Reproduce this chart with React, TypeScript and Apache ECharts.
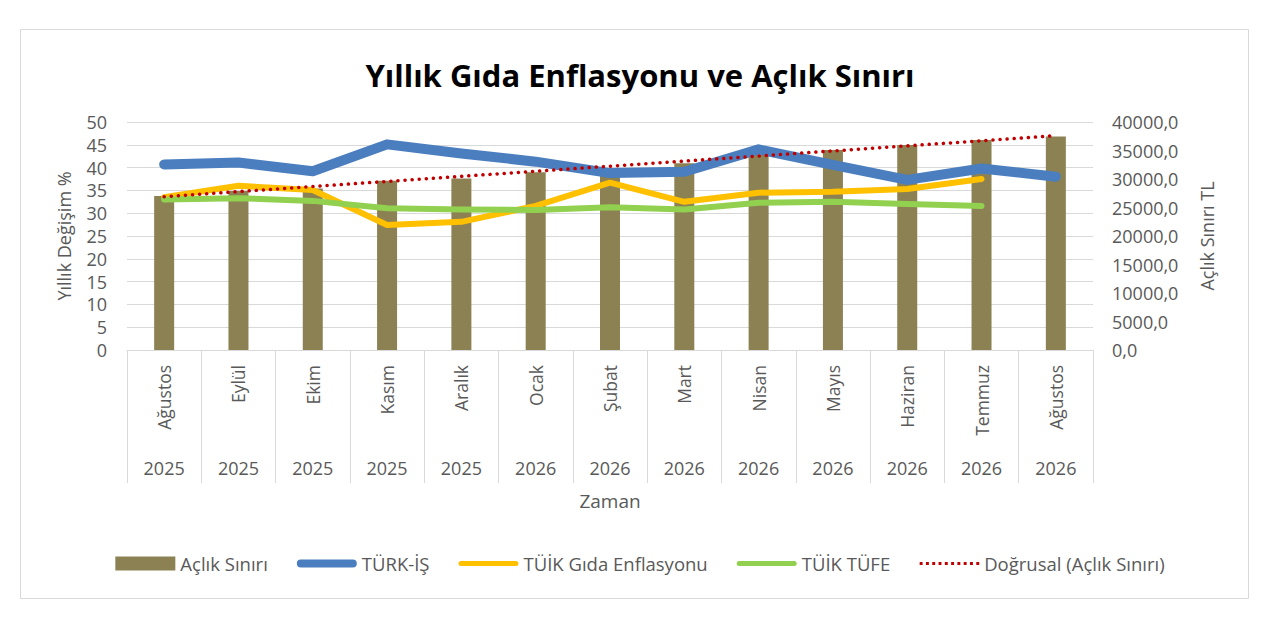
import React, { useEffect, useRef } from "react";
import * as echarts from "echarts";

const months = ["Ağustos", "Eylül", "Ekim", "Kasım", "Aralık", "Ocak", "Şubat", "Mart", "Nisan", "Mayıs", "Haziran", "Temmuz", "Ağustos"];
const years = ["2025", "2025", "2025", "2025", "2025", "2026", "2026", "2026", "2026", "2026", "2026", "2026", "2026"];

// Açlık Sınırı (TL) – right axis
const aclikSiniri = [27000, 27900, 28350, 29700, 30100, 31200, 31700, 32750, 34200, 35100, 35950, 36850, 37450];
// TÜRK-İŞ (%)
const turkIs = [40.7, 41.1, 39.2, 45.1, 43.1, 41.3, 38.8, 39.1, 44.0, 40.6, 37.3, 39.8, 38.0];
// TÜİK Gıda Enflasyonu (%)
const tuikGida = [33.5, 36.0, 35.1, 27.4, 28.1, 31.6, 36.7, 32.5, 34.5, 34.7, 35.3, 37.5, null];
// TÜİK TÜFE (%)
const tuikTufe = [33.0, 33.3, 32.7, 31.1, 30.8, 30.7, 31.3, 30.8, 32.3, 32.5, 32.0, 31.6, null];
// Doğrusal (Açlık Sınırı) – trend line endpoints
const trend = [26900, null, null, null, null, null, null, null, null, null, null, null, 37600];

const leftTicks = { min: 0, max: 50, interval: 5 };
const rightTicks = { min: 0, max: 40000, interval: 5000 };

const FONT = "'Open Sans', 'Noto Sans', sans-serif";
const GREY = "#595959";

// legend icon shapes (60 x 14 box); zero-area anchors keep the full box height
const ANCH = "M0,0 L0.01,0 Z M0,14 L0.01,14 Z ";
function lineIcon(th: number) {
  const r = th / 2;
  const y0 = 7 - r;
  const y1 = 7 + r;
  return (
    "path://" +
    ANCH +
    `M${r},${y0} L${60 - r},${y0} A${r},${r} 0 0 1 ${60 - r},${y1} L${r},${y1} A${r},${r} 0 0 1 ${r},${y0} Z`
  );
}
function dotIcon() {
  let d = "path://" + ANCH;
  for (let x = 0.5; x < 60; x += 6.5) {
    d += `M${x},5.5 L${x + 3},5.5 L${x + 3},8.5 L${x},8.5 Z `;
  }
  return d;
}

export default function App() {
  const ref = useRef<HTMLDivElement>(null);
  useEffect(() => {
    if (!ref.current) return;
    const chart = echarts.init(ref.current, null, { renderer: "svg" });
    const cats = months.map((m, i) => m + " " + years[i]);
    const option = {
      animation: false,
      backgroundColor: "#ffffff",
      textStyle: { fontFamily: FONT },
      title: {
        text: "Yıllık Gıda Enflasyonu ve Açlık Sınırı",
        left: "center",
        top: 54,
        textStyle: { fontFamily: FONT, fontSize: 31, fontWeight: "bold", color: "#000000" },
      },
      graphic: [
        {
          type: "rect",
          shape: { x: 20.5, y: 29.5, width: 1228, height: 569 },
          style: { fill: "none", stroke: "#d9d9d9", lineWidth: 1 },
          silent: true,
        },
      ],
      grid: { left: 127, right: 187, top: 122, bottom: 278 },
      legend: {
        top: 549,
        left: "center",
        itemWidth: 60,
        itemHeight: 14,
        itemGap: 29,
        textStyle: { fontFamily: FONT, fontSize: 18.5, color: GREY },
        data: [
          { name: "Açlık Sınırı", icon: "rect" },
          { name: "TÜRK-İŞ", icon: lineIcon(8) },
          { name: "TÜİK Gıda Enflasyonu", icon: lineIcon(5) },
          { name: "TÜİK TÜFE", icon: lineIcon(5) },
          { name: "Doğrusal (Açlık Sınırı)", icon: dotIcon() },
        ],
      },
      xAxis: [
        {
          type: "category",
          data: cats,
          position: "bottom",
          axisLine: { show: true, lineStyle: { color: "#d9d9d9", width: 1 } },
          axisTick: { show: true, interval: 0, length: 133, lineStyle: { color: "#d9d9d9", width: 1 } },
          axisLabel: {
            interval: 0,
            rotate: 90,
            margin: 15,
            fontSize: 17.5,
            color: GREY,
            fontFamily: FONT,
            formatter: (_v: string, i: number) => months[i],
          },
        },
        {
          type: "category",
          data: cats,
          position: "bottom",
          offset: 101,
          axisLine: { show: false },
          axisTick: { show: false },
          axisLabel: {
            interval: 0,
            margin: 8,
            fontSize: 18,
            color: GREY,
            fontFamily: FONT,
            formatter: (_v: string, i: number) => years[i],
          },
          name: "Zaman",
          nameLocation: "middle",
          nameGap: 40,
          nameTextStyle: { fontSize: 19, color: GREY, fontFamily: FONT },
        },
      ],
      yAxis: [
        {
          type: "value",
          ...leftTicks,
          position: "left",
          name: "Yıllık Değişim %",
          nameLocation: "middle",
          nameGap: 54,
          nameTextStyle: { fontSize: 18, color: GREY, fontFamily: FONT },
          axisLine: { show: false },
          axisTick: { show: false },
          axisLabel: { fontSize: 18, color: GREY, margin: 20, fontFamily: FONT },
          splitLine: { show: true, lineStyle: { color: "#d9d9d9", width: 1 } },
        },
        {
          type: "value",
          ...rightTicks,
          position: "right",
          name: "Açlık Sınırı TL",
          nameLocation: "middle",
          nameGap: 105,
          nameTextStyle: { fontSize: 18, color: GREY, fontFamily: FONT },
          axisLine: { show: false },
          axisTick: { show: false },
          axisLabel: {
            fontSize: 18,
            color: GREY,
            margin: 19,
            fontFamily: FONT,
            formatter: (v: number) => v.toFixed(1).replace(".", ","),
          },
          splitLine: { show: false },
        },
      ],
      series: [
        {
          name: "Açlık Sınırı",
          type: "bar",
          xAxisIndex: 0,
          yAxisIndex: 1,
          data: aclikSiniri,
          barWidth: 20,
          itemStyle: { color: "#8c8152" },
        },
        {
          name: "TÜRK-İŞ",
          type: "line",
          yAxisIndex: 0,
          data: turkIs,
          symbol: "none",
          lineStyle: { color: "#4a7ebf", width: 10, join: "round", cap: "round" },
          itemStyle: { color: "#4a7ebf" },
        },
        {
          name: "TÜİK Gıda Enflasyonu",
          type: "line",
          yAxisIndex: 0,
          data: tuikGida,
          symbol: "none",
          lineStyle: { color: "#ffc000", width: 6, join: "round", cap: "round" },
          itemStyle: { color: "#ffc000" },
        },
        {
          name: "TÜİK TÜFE",
          type: "line",
          yAxisIndex: 0,
          data: tuikTufe,
          symbol: "none",
          lineStyle: { color: "#92d050", width: 6, join: "round", cap: "round" },
          itemStyle: { color: "#92d050" },
        },
        {
          name: "Doğrusal (Açlık Sınırı)",
          type: "line",
          yAxisIndex: 1,
          data: trend,
          connectNulls: true,
          symbol: "none",
          z: 5,
          lineStyle: { color: "#c00000", width: 3.5, type: [0.1, 7], cap: "round" },
          itemStyle: { color: "#c00000" },
        },
      ],
    };
    chart.setOption(option as any);
    return () => chart.dispose();
  }, []);
  return (
    <div
      ref={ref}
      style={{ position: "absolute", left: 0, top: 0, width: 1280, height: 628 }}
    />
  );
}
